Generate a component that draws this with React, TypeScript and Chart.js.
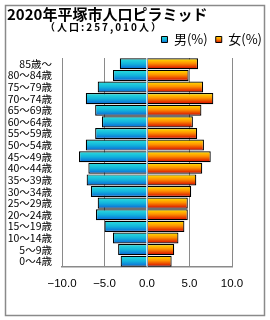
import React, { useEffect, useRef } from "react";
import { Chart, registerables } from "chart.js";

Chart.register(...registerables);

const titleText = "2020年平塚市人口ピラミッド";
const subtitleText = "（人口:257,010人）";
const legendLabels = ["男(%)", "女(%)"];

const categories = [
  "85歳～", "80～84歳", "75～79歳", "70～74歳", "65～69歳", "60～64歳",
  "55～59歳", "50～54歳", "45～49歳", "40～44歳", "35～39歳", "30～34歳",
  "25～29歳", "20～24歳", "15～19歳", "10～14歳", "5～9歳", "0～4歳",
];

const maleValues = [3.2, 4.0, 5.8, 7.2, 6.1, 5.3, 6.1, 7.2, 8.0, 6.9, 7.1, 6.6, 5.8, 6.0, 5.0, 4.0, 3.4, 3.1];
const femaleValues = [6.0, 4.9, 6.6, 7.8, 6.4, 5.4, 5.9, 6.7, 7.5, 6.5, 5.8, 5.2, 4.8, 4.8, 4.4, 3.7, 3.2, 2.9];

const xTickValues = [-10, -5, 0, 5, 10];
const xTickLabels = ["−10.0", "−5.0", "0.0", "5.0", "10.0"];

const BAR_PCT = 0.95;
const CAT_PCT = 1.0;

const maleStops: [number, string][] = [
  [0, "#2ee0dc"],
  [0.5, "#12b4dc"],
  [1, "#0a62d6"],
];
const femaleStops: [number, string][] = [
  [0, "#ffe600"],
  [0.45, "#ff9200"],
  [1, "#d20000"],
];

function makeGrad(c: CanvasRenderingContext2D, y0: number, y1: number, stops: [number, string][]) {
  const g = c.createLinearGradient(0, y0, 0, y1);
  stops.forEach(([o, col]) => g.addColorStop(o, col));
  return g;
}

function barFill(stops: [number, string][]) {
  return (ctx: any) => {
    const chart = ctx.chart;
    const yScale = chart.scales && chart.scales.y;
    if (!yScale || ctx.dataIndex === undefined || !chart.chartArea) return stops[1][1];
    const yc = yScale.getPixelForValue(ctx.dataIndex);
    const slot = Math.abs(yScale.getPixelForValue(1) - yScale.getPixelForValue(0)) || 10;
    const h = slot * BAR_PCT * CAT_PCT;
    return makeGrad(chart.ctx, yc - h / 2, yc + h / 2, stops);
  };
}

const framePlugin = {
  id: "frame",
  beforeDraw(chart: any) {
    const c = chart.ctx;
    c.save();
    c.fillStyle = "#ffffff";
    c.fillRect(0, 0, chart.width, chart.height);
    c.strokeStyle = "#8a8a8a";
    c.lineWidth = 1.5;
    c.strokeRect(5.5, 5.5, 259, 310);
    c.restore();
  },
  afterDraw(chart: any) {
    const c = chart.ctx;
    c.save();
    c.fillStyle = "#000";
    c.textBaseline = "middle";
    c.textAlign = "left";
    c.font = "bold 15px 'Noto Sans CJK JP'";
    c.fillText(titleText, 7, 14.5);
    c.font = "bold 10px 'Noto Sans CJK JP'";
    try {
      (c as any).letterSpacing = "2px";
    } catch (e) {}
    c.fillText(subtitleText, 45, 27);
    try {
      (c as any).letterSpacing = "0px";
    } catch (e) {}
    c.restore();
  },
  afterDatasetsDraw(chart: any) {
    const c = chart.ctx;
    const x = chart.scales.x.getPixelForValue(0);
    const a = chart.chartArea;
    c.save();
    c.strokeStyle = "#8aa2bc";
    c.lineWidth = 1;
    c.beginPath();
    c.moveTo(Math.round(x) + 0.5, a.top);
    c.lineTo(Math.round(x) + 0.5, a.bottom);
    c.stroke();
    c.restore();
  },
};

export default function App() {
  const ref = useRef<HTMLCanvasElement | null>(null);

  useEffect(() => {
    if (!ref.current) return;
    const chart = new Chart(ref.current, {
      type: "bar",
      data: {
        labels: categories,
        datasets: [
          {
            label: legendLabels[0],
            data: maleValues.map((v) => -v),
            backgroundColor: barFill(maleStops) as any,
            borderColor: "#000",
            borderWidth: 1.2,
            barPercentage: BAR_PCT,
            categoryPercentage: CAT_PCT,
          },
          {
            label: legendLabels[1],
            data: femaleValues,
            backgroundColor: barFill(femaleStops) as any,
            borderColor: "#000",
            borderWidth: 1.2,
            barPercentage: BAR_PCT,
            categoryPercentage: CAT_PCT,
          },
        ],
      },
      options: {
        indexAxis: "y",
        responsive: false,
        animation: false,
        layout: { padding: { top: 25, left: 0, right: 0, bottom: 0 } },
        plugins: {
          title: { display: false },
          tooltip: { enabled: false },
          legend: {
            display: true,
            position: "top",
            align: "end",
            labels: {
              boxWidth: 6,
              boxHeight: 6,
              padding: 8,
              color: "#000",
              font: { family: "'Noto Sans CJK JP'", size: 13 },
              generateLabels: (chart: any) => {
                const c = chart.ctx;
                return [
                  {
                    text: legendLabels[0],
                    fillStyle: makeGrad(c, 36, 43, maleStops),
                    strokeStyle: "#000",
                    lineWidth: 1,
                    hidden: false,
                    datasetIndex: 0,
                    fontColor: "#000",
                  },
                  {
                    text: legendLabels[1],
                    fillStyle: makeGrad(c, 36, 43, femaleStops),
                    strokeStyle: "#000",
                    lineWidth: 1,
                    hidden: false,
                    datasetIndex: 1,
                    fontColor: "#000",
                  },
                ];
              },
            },
          },
        },
        scales: {
          x: {
            type: "linear",
            position: "bottom",
            stacked: true,
            min: -10,
            max: 10,
            afterBuildTicks: (s: any) => {
              s.ticks = xTickValues.map((v) => ({ value: v }));
            },
            afterFit: (s: any) => {
              s.height = 53;
            },
            ticks: {
              padding: 10,
              color: "#000",
              font: { family: "'Liberation Sans'", size: 11.5 },
              maxRotation: 0,
              callback: (v: any) => {
                const i = xTickValues.indexOf(Number(v));
                return i >= 0 ? xTickLabels[i] : "";
              },
            },
            grid: { display: true, color: "#8a8a8a", lineWidth: 1, drawTicks: false },
            border: { display: true, color: "#8a8a8a", width: 1.5 },
          },
          xTop: {
            type: "linear",
            axis: "x",
            position: "top",
            display: true,
            grid: { display: false },
            ticks: { display: false },
            border: { display: false },
            afterFit: (s: any) => {
              s.height = 2;
            },
          },
          y: {
            type: "category",
            position: "left",
            stacked: true,
            afterFit: (s: any) => {
              s.width = 62;
            },
            ticks: {
              padding: 10,
              color: "#000",
              autoSkip: false,
              font: { family: "'Noto Sans CJK JP'", size: 10.5 },
            },
            grid: { display: false, drawTicks: false },
            border: { display: false },
          },
          yRight: {
            type: "linear",
            axis: "y",
            position: "right",
            display: true,
            grid: { display: false },
            ticks: { display: false },
            border: { display: false },
            afterFit: (s: any) => {
              s.width = 38;
            },
          },
        } as any,
      },
      plugins: [framePlugin],
    } as any);
    return () => chart.destroy();
  }, []);

  return (
    <div style={{ position: "absolute", left: 0, top: 0, width: 270, height: 320, background: "#fff" }}>
      <canvas ref={ref} width={270} height={320} style={{ display: "block", width: 270, height: 320 }} />
    </div>
  );
}
